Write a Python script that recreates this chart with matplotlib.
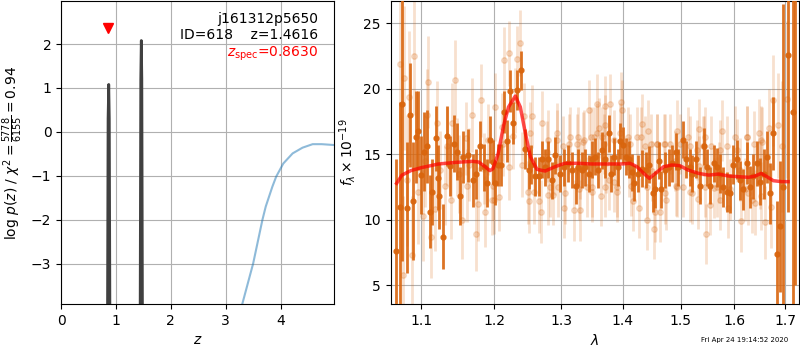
import numpy as np
import matplotlib
matplotlib.use("Agg")
import matplotlib.pyplot as plt
from matplotlib.ticker import FixedLocator, NullLocator, FormatStrFormatter

# ---------------- redshift PDF panel ----------------
pz_z1 = [0.80, 0.845, 0.856, 0.868, 0.878, 0.890, 0.93]
pz_lp1 = [-12.0, -4.5, 0.3, 1.08, 0.3, -4.5, -12.0]
pz_z2 = [1.40, 1.440, 1.452, 1.4616, 1.471, 1.483, 1.52]
pz_lp2 = [-12.0, -4.5, 1.2, 2.08, 1.2, -4.5, -12.0]

chi_z = [3.20, 3.30, 3.50, 3.67, 3.73, 3.85, 3.92, 4.05, 4.22, 4.40, 4.585, 4.75, 4.98]
chi_lp = [-4.4, -3.93, -3.0, -2.0, -1.7, -1.25, -1.02, -0.72, -0.49, -0.36, -0.28, -0.28, -0.30]

z_spec = 0.863
z_spec_marker = 2.37
z_best = 1.4616
obj_name = "j161312p5650"
obj_id = 618

# ---------------- spectrum panel ----------------
bin_wave = [1.0676, 1.0717, 1.0752, 1.0817, 1.0856, 1.0892, 1.0934, 1.0957, 1.1000, 1.1036,
            1.1080, 1.1110, 1.1146, 1.1190, 1.1220, 1.1240, 1.1288, 1.1346, 1.1377, 1.1444,
            1.1480, 1.1520, 1.1556, 1.1630, 1.1701, 1.1746, 1.1801, 1.1860, 1.1896, 1.1937,
            1.1985, 1.2020, 1.2060, 1.2100, 1.2150, 1.2184, 1.2224, 1.2269, 1.2334, 1.2393,
            1.2455, 1.2508, 1.2548, 1.2608, 1.2657, 1.2707, 1.2757, 1.2807, 1.2857, 1.2906,
            1.2981, 1.3048, 1.3113, 1.3167, 1.3231, 1.3274, 1.3328, 1.3382, 1.3436, 1.3490,
            1.3537, 1.3591, 1.3656, 1.3710, 1.3763, 1.3806, 1.3860, 1.3914, 1.3952, 1.3995,
            1.4046, 1.4100, 1.4150, 1.4190, 1.4254, 1.4324, 1.4393, 1.4451, 1.4514, 1.4555,
            1.4613, 1.4653, 1.4717, 1.4786, 1.4855, 1.4913, 1.4959, 1.5037, 1.5099, 1.5173,
            1.5216, 1.5278, 1.5358, 1.5420, 1.5481, 1.5543, 1.5605, 1.5666, 1.5728, 1.5790,
            1.5851, 1.5913, 1.5974, 1.6040, 1.6105, 1.6171, 1.6237, 1.6303, 1.6368, 1.6434,
            1.6500, 1.6566, 1.6632, 1.6697, 1.6763, 1.6829, 1.6895, 1.6961, 1.7060, 1.7168,
            1.7200]
bin_flux = [7.6, 11.0, 18.8, 10.9, 18.0, 11.4, 16.3, 16.8, 13.4, 15.2,
            15.6, 10.6, 12.1, 16.2, 13.2, 11.8, 8.7, 16.4, 14.1, 15.8,
            15.2, 11.8, 14.8, 14.9, 13.0, 13.5, 15.6, 14.0, 12.8, 16.1,
            14.4, 12.8, 14.2, 14.2, 18.2, 16.0, 19.8, 17.4, 19.9, 21.4,
            15.4, 13.8, 14.2, 13.3, 13.3, 14.6, 14.0, 14.6, 13.0, 14.9,
            13.5, 14.0, 14.3, 13.8, 12.6, 14.0, 13.8, 14.0, 13.5, 14.6,
            14.8, 13.8, 15.3, 14.6, 16.6, 13.5, 14.8, 14.0, 16.0, 15.7,
            14.8, 14.6, 13.6, 12.8, 13.5, 13.9, 13.8, 14.2, 12.0, 12.3,
            14.5, 12.3, 13.8, 14.0, 14.3, 15.2, 14.0, 16.1, 14.6, 14.0,
            13.5, 14.6, 12.6, 15.6, 14.0, 12.6, 14.3, 14.0, 13.5, 12.5,
            12.1, 12.0, 14.2, 14.6, 13.0, 12.3, 14.3, 12.5, 13.3, 14.3,
            12.9, 13.5, 14.8, 12.0, 16.6, 7.4, 9.5, 12.5, 22.6, 18.2,
            30.0]
bin_err = [7.0, 8.0, 12.0, 5.0, 4.0, 4.5, 3.5, 3.0, 3.0, 3.0,
           2.8, 2.8, 2.5, 2.5, 2.5, 2.5, 2.5, 2.3, 2.3, 2.2,
           2.2, 2.2, 2.0, 2.0, 2.0, 1.9, 1.9, 1.8, 1.8, 1.8,
           1.7, 1.7, 1.6, 1.6, 1.6, 1.6, 1.6, 1.6, 1.5, 1.5,
           1.5, 1.5, 1.5, 1.5, 1.5, 1.4, 1.4, 1.4, 1.4, 1.4,
           1.4, 1.4, 1.4, 1.4, 1.4, 1.4, 1.4, 1.4, 1.4, 1.4,
           1.4, 1.4, 1.4, 1.4, 1.4, 1.4, 1.4, 1.4, 1.4, 1.4,
           1.4, 1.4, 1.4, 1.4, 1.4, 1.4, 1.4, 1.4, 1.4, 1.4,
           1.4, 1.4, 1.4, 1.4, 1.4, 1.4, 1.4, 1.4, 1.4, 1.4,
           1.4, 1.4, 1.4, 1.4, 1.4, 1.4, 1.4, 1.5, 1.5, 1.5,
           1.5, 1.5, 1.5, 1.5, 1.5, 1.6, 1.6, 1.6, 1.7, 1.7,
           1.8, 1.9, 2.0, 2.3, 2.8, 4.0, 5.0, 14.0, 12.0, 15.0,
           25.0]

beam_wave = [1.0725, 1.0761, 1.0780, 1.0816, 1.0840, 1.0871, 1.0908, 1.0954, 1.1023, 1.1050,
             1.1069, 1.1092, 1.1129, 1.1184, 1.1207, 1.1250, 1.1321, 1.1344, 1.1399, 1.1413,
             1.1450, 1.1480, 1.1505, 1.1542, 1.1597, 1.1620, 1.1650, 1.1689, 1.1744, 1.1771,
             1.1812, 1.1850, 1.1872, 1.1918, 1.1964, 1.1985, 1.2000, 1.2010, 1.2070, 1.2110,
             1.2134, 1.2149, 1.2209, 1.2219, 1.2269, 1.2309, 1.2334, 1.2383, 1.2408, 1.2433,
             1.2498, 1.2508, 1.2533, 1.2558, 1.2583, 1.2657, 1.2697, 1.2707, 1.2788, 1.2797,
             1.2807, 1.2832, 1.2881, 1.2900, 1.2931, 1.2937, 1.2956, 1.3039, 1.3048, 1.3060,
             1.3125, 1.3147, 1.3210, 1.3255, 1.3274, 1.3280, 1.3300, 1.3301, 1.3344, 1.3361,
             1.3409, 1.3436, 1.3470, 1.3490, 1.3494, 1.3521, 1.3575, 1.3578, 1.3602, 1.3640,
             1.3656, 1.3685, 1.3699, 1.3700, 1.3709, 1.3720, 1.3763, 1.3790, 1.3844, 1.3847,
             1.3898, 1.3901, 1.3955, 1.3968, 1.3980, 1.4092, 1.4100, 1.4125, 1.4140, 1.4162,
             1.4237, 1.4277, 1.4299, 1.4324, 1.4381, 1.4410, 1.4414, 1.4428, 1.4472, 1.4500,
             1.4538, 1.4543, 1.4584, 1.4589, 1.4642, 1.4703, 1.4720, 1.4728, 1.4740, 1.4820,
             1.4900, 1.4913, 1.4931, 1.4936, 1.4993, 1.5046, 1.5133, 1.5162, 1.5178, 1.5200,
             1.5302, 1.5310, 1.5327, 1.5330, 1.5401, 1.5424, 1.5440, 1.5450, 1.5463, 1.5543,
             1.5548, 1.5605, 1.5672, 1.5700, 1.5728, 1.5733, 1.5759, 1.5857, 1.5870, 1.5920,
             1.6007, 1.6045, 1.6100, 1.6125, 1.6204, 1.6237, 1.6243, 1.6260, 1.6336, 1.6373,
             1.6401, 1.6467, 1.6500, 1.6506, 1.6520, 1.6533, 1.6586, 1.6665, 1.6717, 1.6763,
             1.6849, 1.6928, 1.7046]
beam_flux = [21.9, 5.8, 20.8, 13.0, 19.4, 7.3, 22.5, 12.1, 10.3, 14.5,
             18.0, 20.5, 8.7, 10.8, 17.4, 13.8, 12.6, 15.6, 11.5, 17.4,
             20.7, 14.8, 13.5, 10.0, 16.2, 12.6, 14.2, 18.0, 8.9, 11.2,
             19.1, 13.9, 10.6, 16.1, 11.5, 12.6, 11.5, 18.6, 11.7, 17.1,
             15.8, 22.2, 14.0, 22.7, 16.4, 19.1, 22.3, 23.5, 14.2, 17.9,
             12.1, 11.4, 16.6, 17.9, 12.1, 11.4, 10.6, 17.4, 15.2, 16.1,
             11.9, 12.5, 11.9, 14.2, 16.6, 16.1, 12.5, 15.6, 10.9, 12.0,
             15.8, 16.3, 10.7, 15.8, 16.3, 12.3, 13.9, 10.7, 15.9, 16.1,
             12.5, 18.4, 16.3, 12.5, 12.1, 16.3, 18.8, 16.6, 17.0, 11.8,
             16.3, 15.8, 18.7, 12.5, 17.2, 14.3, 13.0, 18.8, 12.9, 16.1,
             12.1, 12.5, 16.6, 19.0, 18.4, 16.3, 14.0, 15.8, 12.6, 11.4,
             16.3, 10.9, 16.3, 17.3, 15.6, 10.0, 12.5, 16.8, 15.8, 13.7,
             9.3, 10.6, 15.8, 15.8, 10.6, 15.8, 12.0, 15.8, 11.5, 15.8,
             14.5, 12.6, 16.8, 12.5, 15.8, 12.5, 16.3, 12.1, 15.6, 12.0,
             15.3, 11.6, 16.9, 14.1, 15.6, 15.6, 12.5, 16.3, 8.9, 11.1,
             15.6, 12.4, 12.5, 13.6, 11.5, 15.3, 16.8, 15.6, 10.9, 12.3,
             16.3, 15.3, 13.8, 9.9, 12.3, 16.3, 16.3, 12.0, 11.5, 15.8,
             11.3, 16.6, 13.4, 16.1, 11.8, 15.9, 9.8, 17.0, 11.0, 19.1,
             17.2, 15.6, 19.2]
beam_err = [6.0, 6.0, 5.5, 5.0, 5.0, 4.5, 4.5, 4.0, 3.5, 3.5,
            3.5, 3.5, 3.2, 3.2, 3.2, 3.0, 3.0, 3.0, 3.0, 3.0,
            3.0, 3.0, 3.0, 3.0, 2.8, 2.8, 2.8, 2.8, 2.8, 2.8,
            2.8, 2.7, 2.7, 2.7, 2.7, 2.6, 2.6, 2.6, 2.6, 2.6,
            2.5, 2.5, 2.5, 2.5, 2.5, 2.5, 2.5, 2.5, 2.5, 2.5,
            2.4, 2.4, 2.4, 2.4, 2.4, 2.4, 2.4, 2.4, 2.3, 2.3,
            2.3, 2.3, 2.3, 2.3, 2.3, 2.3, 2.3, 2.3, 2.3, 2.3,
            2.3, 2.3, 2.3, 2.3, 2.3, 2.3, 2.3, 2.3, 2.3, 2.3,
            2.3, 2.3, 2.3, 2.3, 2.3, 2.3, 2.3, 2.3, 2.3, 2.3,
            2.3, 2.3, 2.3, 2.3, 2.3, 2.3, 2.3, 2.3, 2.3, 2.3,
            2.3, 2.3, 2.3, 2.3, 2.3, 2.3, 2.3, 2.3, 2.3, 2.3,
            2.3, 2.3, 2.3, 2.3, 2.3, 2.3, 2.3, 2.3, 2.3, 2.3,
            2.3, 2.3, 2.3, 2.3, 2.3, 2.3, 2.3, 2.3, 2.3, 2.3,
            2.3, 2.3, 2.3, 2.3, 2.3, 2.3, 2.3, 2.3, 2.3, 2.3,
            2.3, 2.3, 2.3, 2.3, 2.3, 2.3, 2.3, 2.3, 2.3, 2.3,
            2.3, 2.3, 2.3, 2.3, 2.3, 2.3, 2.3, 2.3, 2.3, 2.3,
            2.4, 2.4, 2.4, 2.4, 2.4, 2.4, 2.4, 2.4, 2.5, 2.5,
            2.5, 2.6, 2.6, 2.6, 2.6, 2.7, 2.8, 3.0, 3.2, 3.5,
            4.0, 5.0, 6.0]

model_wave = [1.0679, 1.0748, 1.0862, 1.1000, 1.1230, 1.1459, 1.1689, 1.1780, 1.1872, 1.1941,
              1.1985, 1.2060, 1.2134, 1.2209, 1.2309, 1.2383, 1.2458, 1.2533, 1.2632, 1.2757,
              1.2906, 1.3059, 1.3274, 1.3490, 1.3763, 1.3978, 1.4121, 1.4237, 1.4353, 1.4451,
              1.4555, 1.4699, 1.4844, 1.4988, 1.5133, 1.5327, 1.5512, 1.5697, 1.5882, 1.6072,
              1.6270, 1.6401, 1.6520, 1.6632, 1.6763, 1.6928, 1.7060]
model_flux = [12.77, 13.40, 13.74, 13.97, 14.25, 14.37, 14.45, 14.40, 14.04, 13.74,
              13.90, 15.06, 17.10, 18.60, 19.44, 18.60, 16.60, 14.80, 13.84, 13.71,
              14.04, 14.30, 14.30, 14.25, 14.25, 14.25, 14.30, 14.04, 13.53, 13.15,
              13.53, 14.04, 14.17, 14.12, 13.79, 13.53, 13.40, 13.48, 13.33, 13.28,
              13.23, 13.33, 13.53, 13.28, 12.97, 12.90, 12.90]

wave_ticks = [1.1, 1.2, 1.3, 1.4, 1.5, 1.6, 1.7]
flux_ticks = [5, 10, 15, 20, 25]
timestamp = "Fri Apr 24 19:14:52 2020"

spec_color = "#d9650d"

fig = plt.figure(figsize=(8, 3.5), dpi=100)
ax1 = fig.add_axes([0.0764, 0.1314, 0.3415, 0.8657])
ax2 = fig.add_axes([0.4884, 0.1314, 0.5107, 0.8657])

# left: log p(z)
ax1.plot(chi_z, chi_lp, color="tab:blue", alpha=0.5, lw=1.5)
ax1.plot(pz_z1, pz_lp1, color="0.25", lw=2)
ax1.plot(pz_z2, pz_lp2, color="0.25", lw=2)
ax1.plot([z_spec], [z_spec_marker], marker="v", color="red", ms=7, ls="none")
ax1.set_xlim(0, 4.98)
ax1.set_ylim(-3.92, 2.98)
ax1.set_xticks([0, 1, 2, 3, 4])
ax1.set_yticks([-3, -2, -1, 0, 1, 2])
ax1.grid(True)
ax1.set_xlabel(r"$z$")
ax1.set_ylabel(r"log $p(z)$ / $\chi^2=\frac{5778}{6155}=0.94$")
ax1.text(0.94, 0.941, obj_name, transform=ax1.transAxes, ha="right", va="center", fontsize=10)
ax1.text(0.94, 0.888, "ID={0}    z={1:.4f}".format(obj_id, z_best), transform=ax1.transAxes,
         ha="right", va="center", fontsize=10)
ax1.text(0.94, 0.825, r"$z_{\rm spec}$" + "={0:.4f}".format(z_spec), transform=ax1.transAxes,
         ha="right", va="center", fontsize=10, color="red")

# right: spectrum
ax2.errorbar(beam_wave, beam_flux, yerr=beam_err, fmt="o", color=spec_color, alpha=0.2,
             ms=4, elinewidth=2, capsize=0, zorder=2)
ax2.errorbar(bin_wave, bin_flux, yerr=bin_err, fmt="o", color=spec_color, alpha=0.9,
             ms=3.5, elinewidth=2, capsize=0, zorder=3)
ax2.plot(model_wave, model_flux, color="red", alpha=0.7, lw=2.5, zorder=4)
ax2.set_xscale("log")
ax2.set_xlim(1.0604, 1.729)
ax2.set_ylim(3.55, 26.7)
ax2.xaxis.set_major_locator(FixedLocator(wave_ticks))
ax2.xaxis.set_major_formatter(FormatStrFormatter("%.1f"))
ax2.xaxis.set_minor_locator(NullLocator())
ax2.set_yticks(flux_ticks)
ax2.grid(True)
ax2.set_xlabel(r"$\lambda$")
ax2.set_ylabel(r"$f_\lambda\times10^{-19}$")

fig.text(0.985, 0.029, timestamp, ha="right", va="center", fontsize=5)

fig.savefig("out.png", dpi=100)
